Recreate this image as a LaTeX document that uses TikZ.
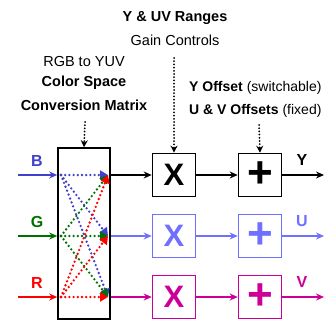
\documentclass[tikz,border=0pt]{standalone}
\usepackage{fontspec}
\setmainfont{Liberation Sans}
\usetikzlibrary{arrows.meta,positioning,calc}
\definecolor{chBlue}{HTML}{4040CC}
\definecolor{chGreen}{HTML}{007000}
\definecolor{chRed}{HTML}{FF0000}
\definecolor{outU}{HTML}{7070FF}
\definecolor{outV}{HTML}{CC0099}

\tikzset{
    opbox/.style={draw, line width=1.6pt, minimum size=43pt, inner sep=0pt},
    sigline/.style={line width=1.8pt, -{Stealth[length=8pt,width=7pt]}},
    ctrl/.style={line width=2pt, line cap=round, dash pattern=on 0pt off 3.2pt,
                 -{Stealth[length=7pt,width=7pt]}},
    mixline/.style={line width=2.6pt, line cap=round, dash pattern=on 0pt off 4.2pt,
                    -{Triangle[length=8pt,width=9pt]}},
    lbl/.style={font=\fontsize{14.5}{16}\selectfont, inner sep=0pt},
    chan/.style={font=\fontsize{16}{18}\selectfont\bfseries, inner sep=0pt},
}

\begin{document}
\begin{tikzpicture}[x=1pt, y=-1pt]
    \useasboundingbox (0,0) rectangle (331,321);
    % conversion matrix
    \node[draw, line width=1.6pt, minimum width=52pt, minimum height=171pt] (mat) at (84,233.5) {};
    % channel rows
    \foreach \n/\i/\yy/\ic/\oc/\o in {1/B/175/chBlue/black/Y, 2/G/236/chGreen/outU/U, 3/R/297/chRed/outV/V} {
        \coordinate (in\n) at (18,\yy);
        \coordinate (mi\n) at (61,\yy);
        \coordinate (mo\n) at (108,\yy);
        \coordinate (out\n) at (324,\yy);
        \node[chan, text=\ic] (ilab\n) at (37,\yy-14) {\i};
        \draw[sigline, \ic] (in\n) -- (in\n -| mat.west);
        \node[opbox, draw=\oc, text=\oc] (gain\n) at (174,\yy) {\fontsize{31}{31}\selectfont\bfseries X};
        \node[opbox, draw=\oc, text=\oc] (offs\n) at (260,\yy) {\fontsize{44}{44}\selectfont\bfseries +};
        \draw[sigline, \oc] (mat.east |- gain\n) -- (gain\n);
        \draw[sigline, \oc] (gain\n) -- (offs\n);
        \draw[sigline, \oc] (offs\n) -- (out\n);
        \node[chan, text=\oc] (olab\n) at (302,\yy-15) {\o};
    }
    % mixing paths
    \foreach \s/\ic in {1/chBlue, 2/chGreen, 3/chRed}
        \foreach \t in {1,2,3}
            \draw[mixline, \ic] (mi\s) -- (mo\t);
    % control inputs
    \coordinate (cm) at (85,122);
    \coordinate (cg) at (174,58);
    \coordinate (co) at (259,125);
    \draw[ctrl] (cm) -- (mat.north);
    \draw[ctrl] (cg) -- (gain1.north);
    \draw[ctrl] (co) -- (offs1.north);
    % captions
    \node[lbl, font=\fontsize{14.5}{16}\selectfont\bfseries] (rangeT) at (175,18) {Y \& UV Ranges};
    \node[lbl] (gainT) at (175,40) {Gain Controls};
    \node[lbl] (rgbT) at (84,62) {RGB to YUV};
    \node[lbl, font=\fontsize{14.5}{16}\selectfont\bfseries] (csT) at (84,83) {Color Space};
    \node[lbl, font=\fontsize{14.5}{16}\selectfont\bfseries] (cmT) at (84,105) {Conversion Matrix};
    \node[lbl, anchor=west, font=\fontsize{14}{16}\selectfont] (yoT) at (189,88) {\textbf{Y Offset} (switchable)};
    \node[lbl, anchor=west, font=\fontsize{14}{16}\selectfont] (uvT) at (189,111) {\textbf{U \& V Offsets} (fixed)};
\end{tikzpicture}
\end{document}
